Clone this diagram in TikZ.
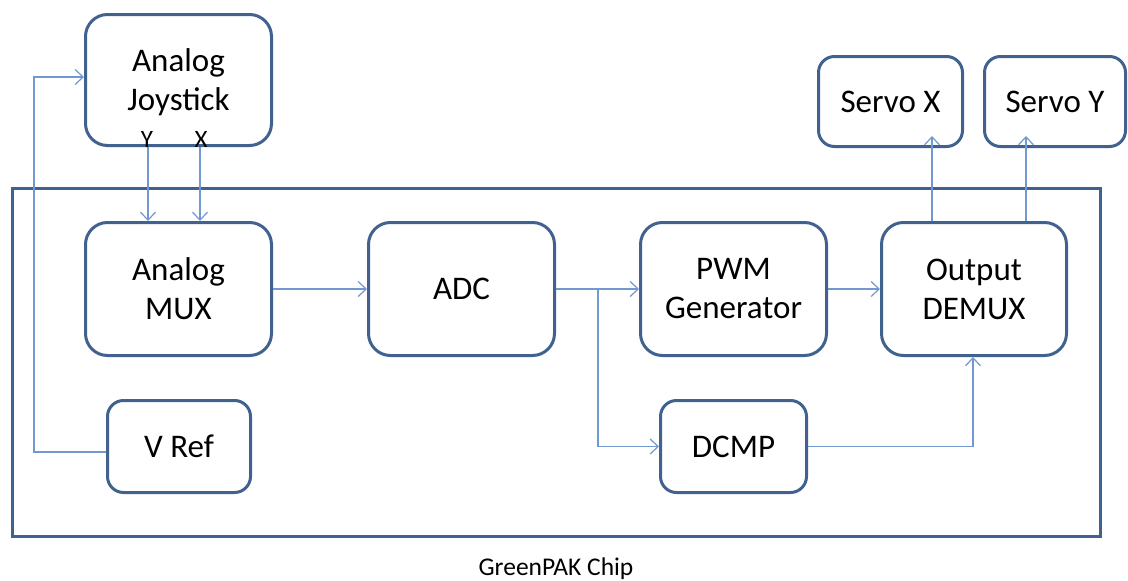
\documentclass[tikz,border=0pt]{standalone}
\usepackage{fontspec}
\setmainfont{Carlito}
\usetikzlibrary{arrows.meta}
\definecolor{boxc}{HTML}{41628F}
\definecolor{arrc}{HTML}{7198D0}
\tikzset{
  blk/.style={draw=boxc, line width=3pt, fill=white, rounded corners=#1, inner sep=0pt, align=center, font=\fontsize{33}{39}\selectfont},
  blk/.default=20pt,
  txt/.style={inner sep=0pt, align=center, font=\fontsize{33}{39}\selectfont},
  arr/.style={draw=arrc, line width=1.2pt, -{Straight Barb[length=8pt,width=15pt,line width=1.2pt]}},
  lbl/.style={font=\fontsize{25}{28}\selectfont, inner sep=0pt, anchor=base}
}
\begin{document}
\begin{tikzpicture}[x=1pt,y=-1pt]
\useasboundingbox (0,0) rectangle (1128,581);
% chip
\draw[draw=boxc, line width=3pt] (12,188) rectangle (1100,536);
\node[font=\fontsize{25.5}{28}\selectfont] (chip) at (556,569) {GreenPAK Chip};
% boxes
\node[blk=22pt, minimum width=186pt, minimum height=131pt] (joy) at (178.5,80) {};
\node[txt] (joyt) at (178.5,82.5) {Analog\\Joystick};
\node[blk=22pt, minimum width=186pt, minimum height=133pt] (mux) at (178.5,289) {Analog\\MUX};
\node[blk=22pt, minimum width=186pt, minimum height=133pt] (adc) at (461.5,289) {ADC};
\node[blk=22pt, minimum width=186pt, minimum height=133pt] (pwm) at (733.5,289) {PWM\\Generator};
\node[blk=22pt, minimum width=185pt, minimum height=133pt] (demux) at (974,289) {Output\\DEMUX};
\node[blk=16pt, minimum width=143pt, minimum height=92pt] (vref) at (179,446.5) {V Ref};
\node[blk=16pt, minimum width=146pt, minimum height=92pt] (dcmp) at (733.5,446.5) {DCMP};
\node[blk=16pt, minimum width=144pt, minimum height=90pt] (servox) at (890.5,101.5) {Servo X};
\node[blk=16pt, minimum width=141pt, minimum height=90pt] (servoy) at (1055,101.5) {Servo Y};
% Y / X labels
\node[lbl] (ly) at (147,147) {Y};
\node[lbl] (lx) at (201,147) {X};
% connectors
\draw[arr] ([xshift=-30.5pt]joy.south) -- ([xshift=-30.5pt]mux.north);
\draw[arr] ([xshift=21.5pt]joy.south) -- ([xshift=21.5pt]mux.north);
\draw[arr] (mux.east) -- (adc.west);
\draw[arr] (adc.east) -- (pwm.west);
\coordinate (br) at (598,289);
\draw[arr] (br) |- (dcmp.west);
\draw[arr] (pwm.east) -- (demux.west);
\draw[arr] (dcmp.east) -| ([xshift=-1pt]demux.south);
\draw[arr] ([xshift=-42pt]demux.north) -- ([xshift=-42pt,yshift=12pt]servox.south -| demux.north);
\draw[arr] ([xshift=52pt]demux.north) -- ([xshift=52pt,yshift=12pt]servoy.south -| demux.north);
\coordinate (lx0) at (34,452);
\draw[arr] ([yshift=-5.5pt]vref.west) -- (lx0) |- ([yshift=3pt]joy.west);
\end{tikzpicture}
\end{document}
